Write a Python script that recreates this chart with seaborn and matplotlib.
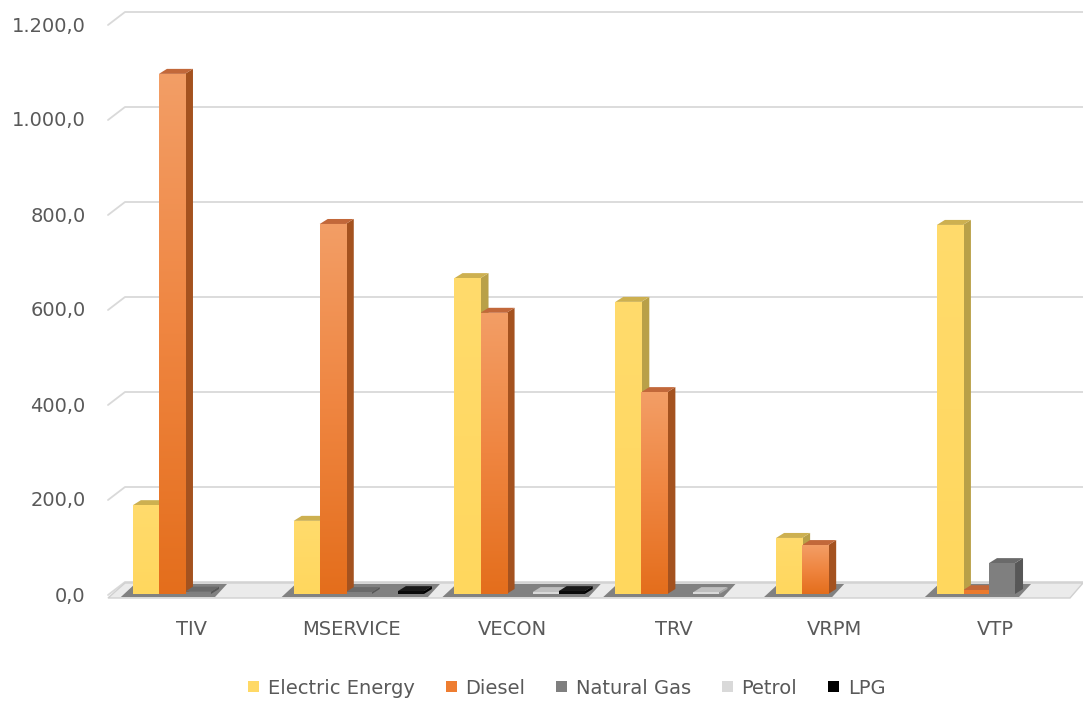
import numpy as np
import pandas as pd
import seaborn as sns
import matplotlib
matplotlib.use("Agg")
import matplotlib.pyplot as plt
from matplotlib.patches import Polygon, Patch
from matplotlib.lines import Line2D
from matplotlib.transforms import IdentityTransform, ScaledTranslation
from matplotlib.colors import LinearSegmentedColormap

# ---------------- data ----------------
categories = ["TIV", "MSERVICE", "VECON", "TRV", "VRPM", "VTP"]
fuels = ["Electric Energy", "Diesel", "Natural Gas", "Petrol", "LPG"]
electric_energy = [187, 154, 665, 615, 118, 777]
diesel = [1095, 779, 592, 425, 103, 8]
natural_gas = [5, 4, 0, 0, 0, 65]
petrol = [0, 0, 4, 4, 0, 0]
lpg = [0, 6, 6, 0, 0, 0]
y_ticks = [0, 200, 400, 600, 800, 1000, 1200]
y_tick_labels = ["0,0", "200,0", "400,0", "600,0", "800,0", "1.000,0", "1.200,0"]

front_colors = {"Electric Energy": "#FFD966", "Diesel": "#EC7A2C",
                "Natural Gas": "#7F7F7F", "Petrol": "#D9D9D9", "LPG": "#0A0A0A"}
side_colors = {"Electric Energy": "#B9A048", "Diesel": "#A4521F",
               "Natural Gas": "#575757", "Petrol": "#A8A8A8", "LPG": "#000000"}
top_colors = {"Electric Energy": "#CDB050", "Diesel": "#C2683A",
              "Natural Gas": "#6A6A6A", "Petrol": "#BFBFBF", "LPG": "#1A1A1A"}
legend_colors = {"Electric Energy": "#FFD966", "Diesel": "#EE7D31",
                 "Natural Gas": "#7F7F7F", "Petrol": "#D9D9D9", "LPG": "#000000"}

series_values = [electric_energy, diesel, natural_gas, petrol, lpg]
rows = []
for fuel, vals in zip(fuels, series_values):
    for cat, v in zip(categories, vals):
        rows.append({"category": cat, "fuel": fuel, "value": v})
df = pd.DataFrame(rows)

# ---------------- style ----------------
sns.set_theme(style="white")
plt.rcParams["font.family"] = ["DejaVu Sans"]
TXT = "#595959"
FS = 14

W, H = 1083, 701
fig = plt.figure(figsize=(W / 100, H / 100), dpi=100)
ax_left, ax_right = 117.6, 1082.4
y_zero, y_top = 594, 24
ax = fig.add_axes([ax_left / W, (H - y_zero) / H, (ax_right - ax_left) / W, (y_zero - y_top) / H])

sns.barplot(data=df, x="category", y="value", hue="fuel", order=categories,
            hue_order=fuels, palette=front_colors, width=0.81, saturation=1,
            errorbar=None, legend=False, ax=ax, linewidth=0, zorder=3)

ax.set_xlim(-0.5, 5.5)
ax.set_ylim(0, 1200)
for s in ax.spines.values():
    s.set_visible(False)
ax.grid(False)
ax.set_xlabel("")
ax.set_ylabel("")
ax.set_yticks(y_ticks)
ax.set_yticklabels(y_tick_labels, fontsize=FS, color=TXT)
ax.tick_params(axis="y", length=0, pad=23)
ax.tick_params(axis="x", length=0, pad=18.5, labelsize=FS, labelcolor=TXT)
for lab in ax.get_xticklabels():
    lab.set_transform(lab.get_transform() + ScaledTranslation(-7 / 100, 0, fig.dpi_scale_trans))

ident = IdentityTransform()

def disp(x, y):
    return ax.transData.transform((x, y))

# back-wall gridlines
BDX, BDY = 17, 12
for v in y_ticks:
    _, yv = disp(0, v)
    xs = [108, 108 + BDX, W]
    ys = [yv - 1, yv + BDY, yv + BDY]
    ax.add_line(Line2D(xs, ys, transform=ident, color="#D9D9D9", lw=1.3,
                       zorder=0.5, clip_on=False))

# floor
_, y0 = disp(0, 0)
floor = Polygon([(108, y0 - 4), (W - 13, y0 - 4), (W, y0 + BDY - 1), (108 + BDX, y0 + BDY - 1)],
                closed=True, transform=ident, facecolor="#EBEBEB", edgecolor="#D0D0D0",
                lw=1.0, zorder=0.8, clip_on=False)
ax.add_patch(floor)

# floor shadows under bar groups
for ci, cat in enumerate(categories):
    xs_nonzero = []
    for container, fuel in zip(ax.containers, fuels):
        bar = container.patches[ci]
        if bar.get_height() > 0:
            xs_nonzero.append((bar.get_x(), bar.get_x() + bar.get_width()))
    if not xs_nonzero:
        continue
    left = disp(min(a for a, b in xs_nonzero), 0)[0]
    right = disp(max(b for a, b in xs_nonzero), 0)[0]
    shadow = Polygon([(left - 12, y0 - 3), (right + 4, y0 - 3), (right + 16, y0 + BDY - 2),
                      (left + 2, y0 + BDY - 2)], closed=True, transform=ident,
                     facecolor="#6F6F6F", edgecolor="none", alpha=0.85, zorder=0.9, clip_on=False)
    ax.add_patch(shadow)

# 3D faces and gradients
DX, DY = 8, 5
diesel_cmap = LinearSegmentedColormap.from_list("dg", ["#E46E1C", "#EF8540", "#F39E66"])
elec_cmap = LinearSegmentedColormap.from_list("eg", ["#FFD75E", "#FFDB6C"])
for container, fuel in zip(ax.containers, fuels):
    for bar in container.patches:
        h = bar.get_height()
        if h <= 0:
            continue
        bx0, bx1 = bar.get_x(), bar.get_x() + bar.get_width()
        (px0, py0) = disp(bx0, 0)
        (px1, py1) = disp(bx1, h)
        side = Polygon([(px1, py0), (px1 + DX, py0 + DY), (px1 + DX, py1 + DY), (px1, py1)],
                       closed=True, transform=ident, facecolor=side_colors[fuel],
                       edgecolor="none", zorder=1.5, clip_on=False)
        top = Polygon([(px0, py1), (px1, py1), (px1 + DX, py1 + DY), (px0 + DX, py1 + DY)],
                      closed=True, transform=ident, facecolor=top_colors[fuel],
                      edgecolor="none", zorder=1.7, clip_on=False)
        ax.add_patch(side)
        ax.add_patch(top)
        if fuel in ("Diesel", "Electric Energy") and h > 20:
            cm = diesel_cmap if fuel == "Diesel" else elec_cmap
            im = ax.imshow(np.linspace(0, 1, 256).reshape(-1, 1), extent=[bx0, bx1, 0, h],
                           origin="lower", aspect="auto", cmap=cm, zorder=3.1,
                           interpolation="bilinear")
            im.set_clip_path(bar)

ax.set_xlim(-0.5, 5.5)
ax.set_ylim(0, 1200)
ax.set_aspect("auto")

# legend
handles = [Patch(facecolor=legend_colors[f], edgecolor="none", label=f) for f in fuels]
leg = fig.legend(handles=handles, loc="center", bbox_to_anchor=(567 / W, 1 - 688 / H),
                 ncol=5, frameon=False, fontsize=FS, handlelength=0.55, handleheight=0.55,
                 handletextpad=0.45, columnspacing=1.6)
for t in leg.get_texts():
    t.set_color(TXT)

fig.savefig("out.png", dpi=100, facecolor="white")
